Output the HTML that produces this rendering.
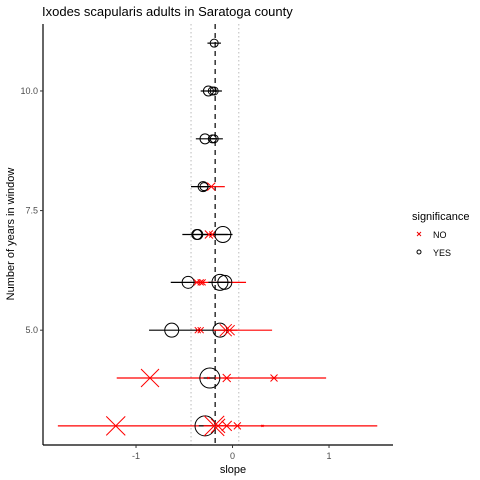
<!DOCTYPE html>
<html><head><meta charset="utf-8"><style>
body{margin:0;background:#fff;}
svg{display:block;font-family:"Liberation Sans",Arial,sans-serif;}
</style></head><body>
<svg id="chart" width="480" height="480" viewBox="0 0 480 480">
<text x="42" y="16" font-size="13" fill="#000">Ixodes scapularis adults in Saratoga county</text>
<g id="grid"></g>
<g id="bars"></g>
<g id="marks"></g>
<g id="axes"></g>
<text x="233" y="473" font-size="11" text-anchor="middle" fill="#000">slope</text>
<text transform="translate(14,234) rotate(-90)" font-size="11" text-anchor="middle" fill="#000">Number of years in window</text>
<g>
<text x="412" y="220" font-size="11" fill="#000">significance</text>
<g>
<line x1="417" y1="232" x2="421" y2="236" stroke="#e00" stroke-width="1"/><line x1="421" y1="232" x2="417" y2="236" stroke="#e00" stroke-width="1"/>
<text x="433" y="238" font-size="9" fill="#000">NO</text></g>
<g>
<circle cx="419" cy="252" r="2" fill="none" stroke="#000"/>
<text x="433" y="256" font-size="9" fill="#000">YES</text></g>
</g>
</svg>
<script>
const years = [3,3,3,3,3,3,3, 4,4,4,4,4, 5,5,5,5,5,5, 6,6,6,6,6,6, 7,7,7,7,7, 8,8,8, 9,9,9, 10,10,10, 11];
const slopes = [-1.21,-0.285,-0.19,-0.15,-0.06,0.05,0.31, -0.855,-0.235,-0.25,-0.06,0.43, -0.63,-0.36,-0.33,-0.13,-0.07,-0.03, -0.46,-0.37,-0.33,-0.31,-0.13,-0.08, -0.37,-0.36,-0.245,-0.21,-0.10, -0.305,-0.295,-0.22, -0.285,-0.21,-0.19, -0.25,-0.21,-0.19, -0.19];
const lower = [-1.81,-0.35,-0.3,-0.25,-0.12,0.0,0.29, -1.2,-0.3,-0.26,-0.1,0.4, -0.865,-0.38,-0.35,-0.38,-0.2,-0.1, -0.64,-0.4,-0.36,-0.34,-0.25,-0.15, -0.52,-0.4,-0.28,-0.25,-0.3, -0.43,-0.35,-0.22, -0.38,-0.25,-0.22, -0.33,-0.25,-0.22, -0.26];
const upper = [1.5,-0.2,-0.1,-0.05,0.0,0.1,0.33, 0.97,-0.18,-0.24,0.0,0.46, -0.35,-0.34,-0.31,0.0,0.41,0.05, -0.3,-0.34,-0.3,0.14,-0.05,-0.02, 0.0,-0.33,-0.22,-0.19,-0.05, -0.22,-0.25,-0.08, -0.10,-0.18,-0.16, -0.11,-0.18,-0.16, -0.12];
const sizes = [9.5,10,10,7,5,3.5,1, 9,10,1,4,3.5, 7,3,3,7,6,5, 6,3,3,3,8,7, 5,5,4,3,8, 5,4,4, 5,4,4, 5,4,4, 4];
const significant = [0,1,0,0,0,0,0, 0,1,0,0,0, 1,0,0,1,0,0, 1,0,0,0,1,1, 1,1,0,0,1, 1,1,0, 1,1,1, 1,1,1, 1];
const xTicks = [-1,0,1];
const yTicks = [5,7.5,10];
const yTickLabels = ["5.0","7.5","10.0"];
const refLines = [-0.43,-0.18,0.065];

const NS="http://www.w3.org/2000/svg";
const L=43,R=393,T=24,B=445;
const xMin=-1.964,xMax=1.663,yMin=2.6,yMax=11.4;
const xs=v=>L+(v-xMin)/(xMax-xMin)*(R-L);
const ys=v=>B-(v-yMin)/(yMax-yMin)*(B-T);
function mk(tag,attrs,parent){const e=document.createElementNS(NS,tag);for(const k in attrs)e.setAttribute(k,attrs[k]);parent.appendChild(e);return e;}
const grid=document.getElementById('grid'),bars=document.getElementById('bars'),marks=document.getElementById('marks'),axes=document.getElementById('axes');
refLines.forEach((v,i)=>{
  const l=mk('line',{x1:xs(v),x2:xs(v),y1:T,y2:B,stroke:i===1?'#000':'#bbb','stroke-width':i===1?1.2:1,'stroke-dasharray':i===1?'5,4':'1.5,2.5'},grid);
  
  
});
years.forEach((y,i)=>{
  const col=significant[i]?'#000':'#f00';
  const b=mk('line',{x1:xs(lower[i]),x2:xs(upper[i]),y1:ys(y),y2:ys(y),stroke:col,'stroke-width':1.2},bars);
  
  
});
years.forEach((y,i)=>{
  const cx=xs(slopes[i]),cy=ys(y),s=sizes[i];
  let g;
  if(significant[i]){
    g=mk('circle',{cx:cx,cy:cy,r:s,fill:'none',stroke:'#000','stroke-width':1},marks);
  } else {
    g=mk('path',{d:`M${cx-s},${cy-s}L${cx+s},${cy+s}M${cx+s},${cy-s}L${cx-s},${cy+s}`,stroke:'#f00','stroke-width':1,fill:'none'},marks);
  }
  
  
});
mk('line',{x1:L,x2:L,y1:T,y2:B,stroke:'#000','stroke-width':1.2},axes);
mk('line',{x1:L,x2:R,y1:B,y2:B,stroke:'#000','stroke-width':1.2},axes);
xTicks.forEach(v=>{
  mk('line',{x1:xs(v),x2:xs(v),y1:B,y2:B+3,stroke:'#333'},axes);
  const t=mk('text',{x:xs(v),y:B+14,'font-size':9,'text-anchor':'middle',fill:'#4d4d4d'},axes);
  t.textContent=v;
  
  
});
yTicks.forEach((v,i)=>{
  mk('line',{x1:L-3,x2:L,y1:ys(v),y2:ys(v),stroke:'#333'},axes);
  const t=mk('text',{x:L-5,y:ys(v)+3,'font-size':9,'text-anchor':'end',fill:'#4d4d4d'},axes);
  t.textContent=yTickLabels[i];
  
  
});
</script>
</body></html>
